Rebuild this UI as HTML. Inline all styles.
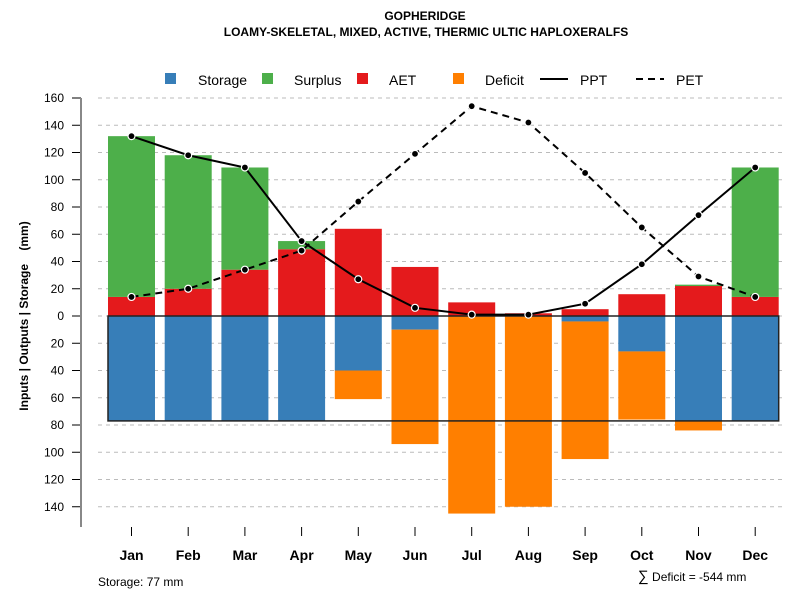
<!DOCTYPE html>
<html><head><meta charset="utf-8"><style>
body{margin:0;background:#fff;font-family:"Liberation Sans",sans-serif}
svg text{font-family:"Liberation Sans",sans-serif}
</style></head><body>
<svg id="chart" width="800" height="600" xmlns="http://www.w3.org/2000/svg">
<text x="425" y="20" text-anchor="middle" font-size="12" font-weight="bold">GOPHERIDGE</text>
<text x="426" y="36" text-anchor="middle" font-size="12" font-weight="bold">LOAMY-SKELETAL, MIXED, ACTIVE, THERMIC ULTIC HAPLOXERALFS</text>
<g id="legend" font-size="14">
<rect x="165" y="73" width="11" height="11" fill="#377eb8"/>
<text x="198" y="85">Storage</text>
<rect x="262" y="73" width="11" height="11" fill="#4daf4a"/>
<text x="294" y="85">Surplus</text>
<rect x="357" y="73" width="11" height="11" fill="#e41a1c"/>
<text x="389" y="85">AET</text>
<rect x="453" y="73" width="11" height="11" fill="#ff7f00"/>
<text x="485" y="85">Deficit</text>
<line x1="540" y1="79" x2="568" y2="79" stroke="#000" stroke-width="2"/>
<text x="580" y="85">PPT</text>
<line x1="636" y1="79" x2="664" y2="79" stroke="#000" stroke-width="2" stroke-dasharray="7,5"/>
<text x="676" y="85">PET</text>
</g>
<text transform="translate(28,316) rotate(-90)" text-anchor="middle" font-size="12" font-weight="bold" xml:space="preserve">Inputs | Outputs | Storage    (mm)</text>
<text x="98" y="586" font-size="12">Storage: 77 mm</text>
<text x="638" y="581" font-size="12"><tspan font-size="15">∑</tspan> Deficit = -544 mm</text>
<g id="grid"></g><g id="bars"></g><g id="lines"></g><g id="axes"></g>
</svg>
<script>
const months=["Jan","Feb","Mar","Apr","May","Jun","Jul","Aug","Sep","Oct","Nov","Dec"];
const storage=[77,77,77,77,40,10,0,0,4,26,77,77];
const deficit=[0,0,0,0,21,84,145,140,101,50,7,0];
const aet=[14,20,34,49,64,36,10,2,5,16,22,14];
const surplus=[118,98,75,6,0,0,0,0,0,0,1,95];
const ppt=[132,118,109,55,27,6,1,1,9,38,74,109];
const pet=[14,20,34,48,84,119,154,142,105,65,29,14];
const yTicks=[160,140,120,100,80,60,40,20,0,-20,-40,-60,-80,-100,-120,-140];
const maxStorage=77;
const NS="http://www.w3.org/2000/svg";
const y=v=>316-v*1.3625;
const x=i=>131.5+i*56.7;
const bw=47;
function mk(tag,attrs,parent){const e=document.createElementNS(NS,tag);for(const k in attrs)e.setAttribute(k,attrs[k]);document.getElementById(parent).appendChild(e);return e;}
yTicks.forEach(t=>{
 const g=mk("line",{x1:98,x2:783,y1:y(t),y2:y(t),stroke:"#bbb","stroke-dasharray":"4,4"},"grid");
 
 
 const tk=mk("line",{x1:72,x2:81,y1:y(t),y2:y(t),stroke:"#000"},"axes");
 
 
 const lb=mk("text",{x:64,y:y(t)+4,"text-anchor":"end","font-size":"12"},"axes");
 lb.textContent=Math.abs(t);
 
 
});
const ax=mk("line",{x1:81,x2:81,y1:98,y2:527,stroke:"#888","stroke-width":2},"axes");


months.forEach((m,i)=>{
 const cx=x(i),x0=cx-bw/2;
 const b1=mk("rect",{x:x0,y:y(aet[i]),width:bw,height:aet[i]*1.3625,fill:"#e41a1c"},"bars");
 
 
 const b2=mk("rect",{x:x0,y:y(aet[i]+surplus[i]),width:bw,height:surplus[i]*1.3625,fill:"#4daf4a"},"bars");
 
 
 const b3=mk("rect",{x:x0,y:y(0),width:bw,height:storage[i]*1.3625,fill:"#377eb8"},"bars");
 
 
 const b4=mk("rect",{x:x0,y:y(-storage[i]),width:bw,height:deficit[i]*1.3625,fill:"#ff7f00"},"bars");
 
 
 const tk=mk("line",{x1:cx,x2:cx,y1:527,y2:536,stroke:"#000"},"axes");
 
 
 const lb=mk("text",{x:cx,y:560,"text-anchor":"middle","font-size":"14","font-weight":"bold"},"axes");
 lb.textContent=m;
 
 
});
const box=mk("rect",{x:x(0)-bw/2,y:y(0),width:x(11)-x(0)+bw,height:maxStorage*1.3625,fill:"none",stroke:"#222","stroke-width":1.5},"bars");


function series(vals,name,dash){
 const p=mk("polyline",{points:vals.map((v,i)=>x(i)+","+y(v)).join(" "),fill:"none",stroke:"#000","stroke-width":2,"stroke-dasharray":dash},"lines");
 
 
 vals.forEach((v,i)=>{
  const c=mk("circle",{cx:x(i),cy:y(v),r:3.5,fill:"#000",stroke:"#fff","stroke-width":1.2},"lines");
  
  
 });
}
series(pet,"pet","7,5");
series(ppt,"ppt","none");
</script>
</body></html>
